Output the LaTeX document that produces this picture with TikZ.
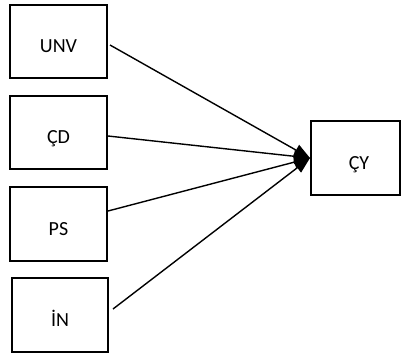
\documentclass[tikz,border=0pt]{standalone}
\usepackage{fontspec}
\setmainfont{Carlito}
\usetikzlibrary{arrows.meta,calc}
\begin{document}
\begin{tikzpicture}[x=1pt,y=-1pt,
  varbox/.style={draw=black, line width=1.3pt, rectangle, inner sep=0pt, outer sep=0pt,
    minimum height=73pt, text height=22pt, text depth=0pt,
    font=\fontsize{20pt}{24pt}\selectfont},
  link/.style={line width=1.4pt, -{Triangle[length=16pt,width=12pt]}}]
\useasboundingbox (0,0) rectangle (401,354);
% predictor boxes on the left
\node[varbox, minimum width=97pt] (unv) at (58.5,41.5) {UNV};
\node[varbox, minimum width=97pt] (cd)  at (58.5,132.5) {ÇD};
\node[varbox, minimum width=97pt, minimum height=74pt] (ps) at (58.5,224) {PS};
\node[varbox, minimum width=96pt, minimum height=74pt] (in) at (60,315) {İN};
% outcome box on the right
\node[varbox, minimum width=89pt, minimum height=74pt] (cy) at (355.5,158) {\hspace*{7pt}ÇY};
% connectors converging on the outcome
\draw[link] ($(unv.east)+(3,3.5)$) -- ($(cy.west)+(-1,0)$);
\draw[link] ($(cd.east)+(1,3.5)$)  -- ($(cy.west)+(-1,0)$);
\draw[link] ($(ps.east)+(1,-13)$)  -- ($(cy.west)+(-1,0)$);
\draw[link] ($(in.east)+(5,-6)$)   -- ($(cy.west)+(-1,0)$);
\end{tikzpicture}
\end{document}
